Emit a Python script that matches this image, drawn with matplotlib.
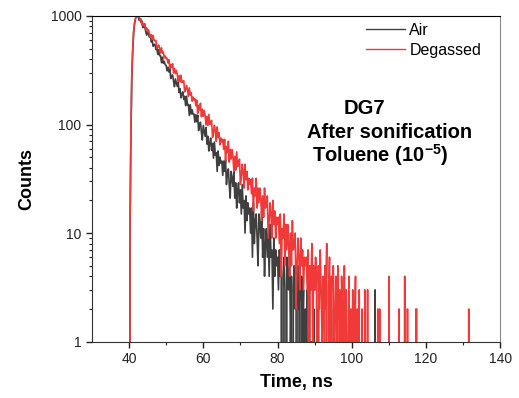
import matplotlib
matplotlib.use("Agg")
import matplotlib.pyplot as plt
import numpy as np

plt.rcParams['font.family'] = ['Liberation Sans', 'DejaVu Sans']
plt.rcParams['mathtext.fontset'] = 'custom'
plt.rcParams['mathtext.rm'] = 'Liberation Sans'
plt.rcParams['mathtext.bf'] = 'Liberation Sans:bold'

# time channels of the decay (ns)
t_start = 40.0
t_step = 0.25
t_end = 140.0

# Air: counts, 40.0 ns .. 90.0 ns
air_counts = [
    0, 8, 70, 260, 470, 700, 850, 940, 985, 1000,
    987, 908, 937, 870, 896, 780, 798, 793, 720, 666,
    723, 679, 638, 668, 576, 597, 525, 543, 549, 491,
    505, 442, 490, 431, 430, 371, 417, 366, 381, 354,
    351, 312, 337, 305, 328, 265, 282, 286, 250, 223,
    263, 243, 224, 247, 197, 214, 176, 192, 200, 170,
    182, 149, 182, 150, 153, 121, 152, 125, 137, 124,
    125, 105, 123, 106, 122, 88, 101, 105, 85, 72,
    98, 88, 78, 94, 66, 78, 57, 68, 75, 58,
    67, 49, 69, 52, 55, 37, 57, 42, 50, 44,
    46, 34, 46, 37, 47, 28, 36, 39, 28, 21,
    37, 32, 27, 37, 21, 29, 17, 24, 29, 19,
    25, 15, 28, 17, 20, 10, 22, 13, 19, 15,
    17, 10, 17, 6, 19, 8, 13, 15, 9, 5,
    15, 12, 9, 16, 6, 11, 4, 8, 11, 6,
    10, 4, 12, 6, 7, 2, 9, 4, 7, 5,
    6, 3, 7, 4, 8, 0, 4, 6, 3, 0,
    6, 4, 3, 7, 1, 4, 0, 3, 5, 2,
    4, 0, 5, 2, 3, 0, 4, 1, 3, 0,
    2, 0, 3, 0, 4, 0, 1, 0, 0, 2,
    0,
]
# Degassed: counts, 40.0 ns .. 103.0 ns
deg_counts = [
    0, 10, 80, 290, 500, 720, 870, 950, 990, 1000,
    982, 975, 905, 935, 820, 860, 815, 850, 743, 778,
    718, 745, 695, 633, 671, 609, 663, 593, 592, 594,
    505, 515, 539, 505, 456, 508, 453, 465, 410, 428,
    406, 408, 369, 395, 327, 358, 335, 363, 299, 327,
    294, 316, 289, 253, 281, 246, 285, 244, 248, 253,
    200, 210, 229, 210, 181, 218, 186, 196, 164, 179,
    168, 172, 149, 168, 127, 150, 136, 157, 118, 138,
    119, 135, 120, 99, 119, 98, 124, 100, 104, 109,
    76, 84, 98, 88, 70, 95, 76, 84, 65, 75,
    69, 73, 59, 73, 47, 63, 55, 70, 45, 59,
    48, 59, 50, 37, 51, 38, 56, 41, 44, 48,
    28, 33, 43, 37, 26, 43, 31, 37, 25, 32,
    28, 31, 23, 32, 16, 26, 22, 32, 17, 26,
    19, 26, 21, 13, 22, 14, 26, 17, 19, 22,
    9, 13, 19, 15, 9, 20, 12, 16, 9, 14,
    12, 14, 8, 15, 4, 11, 9, 15, 5, 12,
    7, 12, 8, 4, 10, 5, 13, 7, 8, 10,
    2, 5, 9, 6, 3, 9, 5, 7, 3, 6,
    5, 6, 3, 7, 0, 5, 3, 8, 1, 5,
    3, 6, 4, 0, 5, 2, 7, 3, 1, 4,
    0, 5, 2, 8, 0, 3, 6, 1, 4, 0,
    5, 2, 0, 4, 1, 5, 0, 3, 0, 4,
    2, 0, 5, 0, 3, 1, 0, 4, 0, 2,
    0, 3, 0, 1, 4, 0, 2, 0, 3, 0,
    0, 2, 0,
]
# isolated counts further out in the tail (time ns, counts)
air_tail_t = [91.0, 94.5, 106.25]
air_tail_c = [2, 2, 3]
deg_tail_t = [103.5, 104.25, 107.0, 107.5, 110.0, 112.75, 114.25, 115.0, 117.25, 117.5, 131.5]
deg_tail_c = [3, 3, 2, 2, 4, 2, 4, 2, 2, 2, 2]

time = np.arange(t_start, t_end + t_step / 2, t_step)


def full_trace(counts, tail_t, tail_c):
    y = np.zeros(len(time))
    y[:len(counts)] = counts
    for tt, cc in zip(tail_t, tail_c):
        y[int(round((tt - t_start) / t_step))] = cc
    return y


air = full_trace(air_counts, air_tail_t, air_tail_c)
deg = full_trace(deg_counts, deg_tail_t, deg_tail_c)

fig = plt.figure(figsize=(5.19, 3.98), dpi=100)
ax = fig.add_axes([0.177, 0.1415, 0.787, 0.8185])

ax.plot(time, air, color='#3f3f3f', lw=1.2, label='Air')
ax.plot(time, deg, color='#f03a3a', lw=1.2, label='Degassed')

ax.set_yscale('log', nonpositive='clip')
ax.set_xlim(30, 140)
ax.set_ylim(1, 1000)
ax.set_xticks([40, 60, 80, 100, 120, 140])
ax.set_xticks([50, 70, 90, 110, 130], minor=True)
ax.set_yticks([1, 10, 100, 1000])
ax.set_yticklabels(['1', '10', '100', '1000'])

ax.tick_params(which='major', direction='out', length=4, width=1, labelsize=10, colors='#222222')
ax.tick_params(which='minor', direction='out', length=2.5, width=0.8, colors='#222222')
for side in ['left', 'bottom']:
    ax.spines[side].set_color('#333333')
ax.spines['top'].set_color('black')
ax.spines['right'].set_color('#888888')

ax.set_xlabel('Time, ns', fontsize=13, fontweight='bold', labelpad=6)
ax.set_ylabel('Counts', fontsize=13, fontweight='bold', labelpad=11)

leg = ax.legend(loc='upper left', bbox_to_anchor=(0.672, 0.978), frameon=False, fontsize=11.5,
                handlelength=2.4, handletextpad=0.3, labelspacing=0.3, borderpad=0, borderaxespad=0)
for line in leg.get_lines():
    line.set_linewidth(1.0)

ax.text(0.668, 0.717, 'DG7', transform=ax.transAxes, ha='center', va='center',
        fontsize=14.5, fontweight='bold')
ax.text(0.728, 0.641, 'After sonification', transform=ax.transAxes, ha='center', va='center',
        fontsize=14.5, fontweight='bold')
ax.text(0.706, 0.573, r'Toluene (10$^{\mathbf{-5}}$)', transform=ax.transAxes, ha='center', va='center',
        fontsize=14.5, fontweight='bold')

plt.savefig('out.png', dpi=100)
